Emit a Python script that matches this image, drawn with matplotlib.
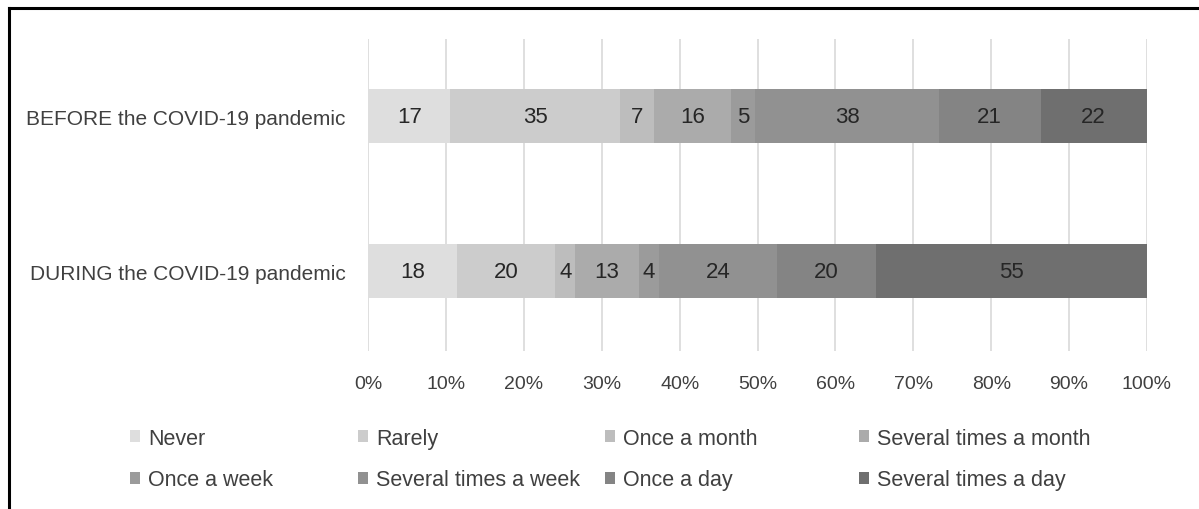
import numpy as np
import matplotlib.pyplot as plt
from matplotlib.lines import Line2D

# data (counts per answer)
periods = ['DURING the COVID-19 pandemic', 'BEFORE the COVID-19 pandemic']
answers = ['Never', 'Rarely', 'Once a month', 'Several times a month',
           'Once a week', 'Several times a week', 'Once a day', 'Several times a day']
before = [17, 35, 7, 16, 5, 38, 21, 22]
during = [18, 20, 4, 13, 4, 24, 20, 55]
colors = ['#dedede', '#cccccc', '#bdbdbd', '#ababab',
          '#9b9b9b', '#919191', '#848484', '#6f6f6f']

plt.rcParams['font.family'] = ['Liberation Sans', 'DejaVu Sans']
txt = '#404040'

counts = np.array([during, before], dtype=float)
shares = counts / counts.sum(axis=1, keepdims=True)
left = np.zeros(2)

fig = plt.figure(figsize=(11.99, 5.10), dpi=100)
ax = fig.add_axes([0.307, 0.3098, 0.6496, 0.6118])

ypos = np.arange(2)
bars = []
for i, name in enumerate(answers):
    b = ax.barh(ypos, shares[:, i], left=left, height=0.35, color=colors[i],
                label=name, zorder=2, edgecolor='none')
    ax.bar_label(b, labels=[str(int(v)) for v in counts[:, i]], label_type='center',
                 fontsize=16, color='#262626')
    bars.append(b)
    left += shares[:, i]

ax.set_xlim(0, 1)
ax.set_ylim(-0.516, 1.497)
ticks = np.arange(0, 1.01, 0.1)
ax.set_xticks(ticks)
ax.set_xticklabels([f'{int(round(v * 100))}%' for v in ticks], fontsize=14, color=txt)
ax.set_yticks(ypos)
ax.set_yticklabels(periods, fontsize=15, color=txt)
ax.tick_params(axis='x', length=0, pad=17)
ax.tick_params(axis='y', length=0, pad=16)
ax.grid(axis='x', color='#d9d9d9', linewidth=1.2, zorder=0)
for s in ax.spines.values():
    s.set_visible(False)

# legend: four equal columns like the original
col_x = [0.101, 0.291, 0.497, 0.709]
for c in range(4):
    hs = [bars[c], bars[c + 4]]
    lg = fig.legend(hs, [answers[c], answers[c + 4]], loc='upper left',
                    bbox_to_anchor=(col_x[c], 0.176), ncol=1, frameon=False,
                    fontsize=15.5, handlelength=0.5, handleheight=0.5,
                    handletextpad=0.35, labelspacing=0.95, borderaxespad=0)
    for t in lg.get_texts():
        t.set_color(txt)

# outer frame: only top and left edges visible
fig.add_artist(Line2D([0.0075, 1.0], [0.982, 0.982], color='black', linewidth=2.2))
fig.add_artist(Line2D([0.0075, 0.0075], [0.0, 0.982], color='black', linewidth=2.2))

fig.savefig('out.png', dpi=100, facecolor='white')
